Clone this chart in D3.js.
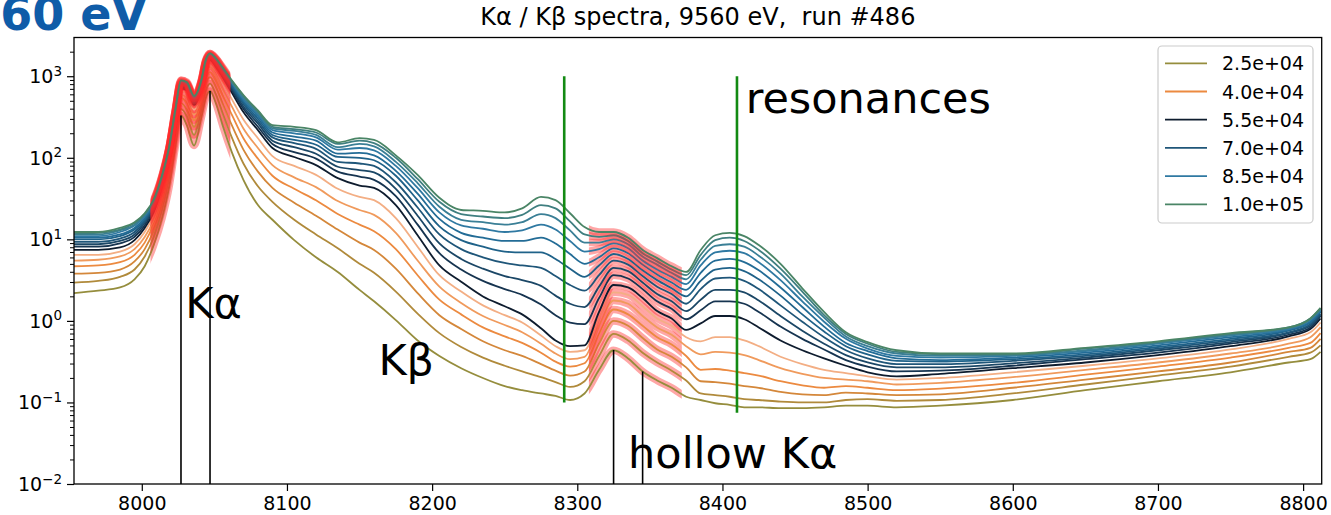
<!DOCTYPE html>
<html>
<head>
<meta charset="utf-8">
<script src="https://cdn.jsdelivr.net/npm/d3@7"></script>
<style>
  html, body { margin: 0; padding: 0; background: #fff; }
  svg { display: block; }
  text { font-family: "DejaVu Sans", sans-serif; }
</style>
</head>
<body>
<svg id="chart" width="1331" height="515"></svg>
<script>
// Emission energy grid (eV) shared by all spectra
const energy = [7953,7970,7985,7995,8002,8008,8014,8019,8023,8027,8031,8036,8041,8044,8047,8051,8056,8062,8070,8080,
  8090,8105,8120,8135,8150,8160,8175,8190,8205,8220,8235,8250,8262,8275,8285,8295,8305,8315,8325,8335,
  8345,8355,8365,8375,8385,8395,8405,8415,8425,8440,8455,8470,8485,8500,8520,8550,8600,8650,8700,8750,
  8790,8805,8812];

// Pulse intensity of each spectrum
const pulseIntensity = [2.5e4,3.0e4,3.5e4,4.0e4,4.5e4,5.0e4,5.5e4,6.0e4,6.5e4,7.0e4,7.5e4,8.0e4,8.5e4,9.0e4,9.5e4,1.0e5];

const lineColors = ["#958d3d","#b08a3b","#d4873a","#ec8a40","#f09a5c","#f3ae84","#0e1c2e","#163450",
  "#1b4766","#1f5679","#1f6289","#236c96","#2f79a2","#3a7f96","#3f7f80","#4a8566"];

// Spectra, log10 of counts, one row per pulse intensity
const log10Counts = [
  [.34,.37,.41,.51,.67,.92,1.26,1.66,2.12,2.52,2.40,2.15,2.49,2.73,2.82,2.67,2.38,2.07,1.73,1.42,1.24,.99,.78,.60,.38,.24,.01,-.24,-.43,-.58,-.70,-.80,-.85,-.89,-.92,-.97,-.89,-.60,-.36,-.46,-.62,-.73,-.82,-.93,-.97,-1.01,-1.03,-1.06,-1.06,-1.07,-1.07,-1.06,-1.04,-1.04,-1.06,-1.04,-.97,-.85,-.74,-.63,-.51,-.47,-.38],
  [.47,.49,.54,.63,.79,1.02,1.36,1.77,2.21,2.60,2.51,2.28,2.58,2.82,2.91,2.78,2.53,2.25,1.93,1.65,1.46,1.24,1.06,.89,.70,.59,.36,.09,-.15,-.32,-.45,-.55,-.62,-.69,-.75,-.81,-.74,-.43,-.16,-.24,-.39,-.51,-.61,-.73,-.89,-.91,-.93,-.96,-.97,-.99,-1.00,-1.00,-.97,-.96,-.98,-.97,-.89,-.78,-.67,-.56,-.44,-.39,-.30],
  [.58,.59,.63,.73,.88,1.10,1.44,1.85,2.28,2.67,2.59,2.38,2.65,2.90,2.99,2.87,2.65,2.40,2.10,1.83,1.63,1.45,1.29,1.12,.96,.87,.64,.34,.07,-.10,-.25,-.36,-.43,-.53,-.61,-.67,-.62,-.28,.00,-.06,-.21,-.35,-.44,-.57,-.74,-.75,-.77,-.80,-.82,-.87,-.90,-.91,-.88,-.89,-.91,-.90,-.82,-.72,-.62,-.51,-.38,-.33,-.22],
  [.67,.68,.72,.81,.96,1.18,1.51,1.92,2.35,2.73,2.67,2.46,2.71,2.96,3.05,2.95,2.75,2.53,2.24,1.99,1.78,1.62,1.48,1.31,1.18,1.10,.88,.56,.26,.08,-.08,-.19,-.27,-.39,-.50,-.56,-.52,-.16,.14,.08,-.06,-.20,-.29,-.43,-.60,-.59,-.61,-.64,-.67,-.74,-.79,-.82,-.80,-.82,-.85,-.83,-.76,-.66,-.56,-.45,-.33,-.27,-.15],
  [.74,.75,.79,.88,1.03,1.23,1.57,1.97,2.40,2.77,2.73,2.53,2.77,3.01,3.11,3.01,2.83,2.63,2.36,2.12,1.91,1.76,1.64,1.47,1.36,1.30,1.08,.74,.42,.22,.06,-.05,-.14,-.28,-.40,-.47,-.44,-.06,.25,.21,.06,-.08,-.17,-.31,-.41,-.38,-.39,-.42,-.48,-.58,-.65,-.70,-.72,-.74,-.78,-.76,-.69,-.60,-.51,-.40,-.28,-.20,-.08],
  [.81,.81,.85,.94,1.09,1.29,1.62,2.02,2.44,2.82,2.78,2.59,2.81,3.06,3.15,3.07,2.91,2.72,2.47,2.24,2.02,1.90,1.79,1.62,1.52,1.48,1.26,.91,.56,.36,.19,.07,-.02,-.18,-.31,-.38,-.36,.03,.35,.32,.18,.03,-.06,-.20,-.25,-.20,-.20,-.24,-.31,-.44,-.53,-.60,-.64,-.68,-.72,-.70,-.63,-.55,-.46,-.35,-.22,-.14,-.02],
  [.87,.87,.90,.99,1.14,1.33,1.66,2.07,2.49,2.85,2.83,2.65,2.85,3.10,3.20,3.12,2.98,2.80,2.56,2.34,2.12,2.01,1.91,1.75,1.66,1.63,1.42,1.05,.68,.48,.30,.18,.08,-.09,-.24,-.31,-.30,.11,.44,.41,.28,.12,.03,-.11,-.03,.06,.06,.02,-.08,-.24,-.36,-.46,-.55,-.63,-.68,-.65,-.58,-.51,-.42,-.31,-.19,-.10,.03],
  [.91,.91,.95,1.03,1.17,1.36,1.69,2.08,2.50,2.87,2.85,2.67,2.87,3.12,3.21,3.14,3.00,2.83,2.60,2.38,2.17,2.07,1.99,1.83,1.77,1.73,1.53,1.18,.83,.63,.49,.39,.32,.20,.07,-.02,-.04,.28,.56,.52,.39,.24,.15,.02,.13,.24,.24,.21,.11,-.07,-.22,-.35,-.48,-.56,-.62,-.61,-.55,-.47,-.39,-.28,-.17,-.08,.06],
  [.94,.94,.98,1.06,1.20,1.38,1.70,2.10,2.52,2.88,2.86,2.68,2.88,3.13,3.22,3.15,3.01,2.85,2.63,2.42,2.21,2.13,2.05,1.89,1.85,1.82,1.62,1.29,.95,.76,.64,.55,.50,.43,.31,.21,.17,.42,.65,.61,.47,.33,.24,.12,.26,.38,.38,.35,.25,.06,-.12,-.28,-.42,-.51,-.57,-.57,-.52,-.45,-.36,-.26,-.15,-.06,.07],
  [.97,.97,1.01,1.09,1.22,1.40,1.72,2.11,2.53,2.90,2.87,2.70,2.90,3.14,3.24,3.17,3.03,2.87,2.66,2.45,2.25,2.18,2.11,1.95,1.93,1.90,1.70,1.39,1.06,.88,.78,.71,.68,.65,.55,.44,.37,.56,.74,.69,.55,.42,.33,.21,.39,.52,.53,.49,.39,.19,-.01,-.20,-.36,-.46,-.53,-.53,-.49,-.43,-.34,-.24,-.14,-.04,.09],
  [1.00,1.00,1.04,1.12,1.24,1.42,1.74,2.12,2.54,2.91,2.89,2.71,2.91,3.16,3.25,3.18,3.05,2.89,2.68,2.48,2.28,2.22,2.16,2.01,2.00,1.97,1.78,1.48,1.16,.99,.91,.85,.84,.84,.76,.64,.54,.68,.82,.76,.62,.50,.40,.30,.49,.63,.65,.61,.51,.31,.08,-.13,-.31,-.41,-.49,-.50,-.47,-.41,-.32,-.22,-.12,-.02,.11],
  [1.02,1.02,1.06,1.14,1.26,1.43,1.75,2.13,2.55,2.92,2.90,2.72,2.92,3.17,3.26,3.19,3.06,2.91,2.70,2.51,2.31,2.26,2.21,2.05,2.06,2.03,1.84,1.56,1.25,1.08,1.02,.98,.98,1.02,.95,.82,.70,.78,.89,.83,.69,.57,.47,.38,.59,.74,.76,.72,.62,.41,.17,-.07,-.27,-.37,-.46,-.48,-.45,-.39,-.30,-.20,-.11,-.01,.12],
  [1.04,1.04,1.09,1.17,1.28,1.45,1.76,2.14,2.56,2.93,2.91,2.73,2.93,3.18,3.26,3.20,3.07,2.92,2.72,2.53,2.34,2.30,2.25,2.10,2.12,2.09,1.90,1.63,1.33,1.17,1.13,1.09,1.11,1.18,1.12,.98,.85,.88,.95,.89,.74,.63,.54,.45,.68,.84,.86,.83,.72,.50,.24,-.01,-.22,-.34,-.43,-.45,-.43,-.37,-.28,-.18,-.10,.01,.13],
  [1.06,1.06,1.11,1.18,1.30,1.46,1.77,2.14,2.57,2.94,2.91,2.74,2.94,3.18,3.27,3.21,3.08,2.93,2.74,2.55,2.36,2.33,2.28,2.13,2.17,2.14,1.95,1.69,1.40,1.24,1.21,1.18,1.21,1.31,1.26,1.11,.96,.96,1.00,.94,.79,.69,.59,.51,.75,.92,.94,.91,.80,.58,.30,.04,-.19,-.31,-.40,-.43,-.42,-.36,-.27,-.17,-.09,.02,.14],
  [1.07,1.08,1.12,1.20,1.31,1.47,1.78,2.15,2.58,2.95,2.92,2.75,2.95,3.19,3.28,3.22,3.09,2.94,2.76,2.57,2.38,2.35,2.31,2.17,2.21,2.18,2.00,1.74,1.46,1.31,1.28,1.26,1.30,1.42,1.38,1.22,1.06,1.03,1.05,.98,.83,.73,.63,.56,.81,.99,1.02,.98,.87,.64,.36,.07,-.16,-.28,-.38,-.41,-.41,-.34,-.26,-.16,-.08,.03,.15],
  [1.09,1.09,1.14,1.21,1.32,1.48,1.79,2.15,2.58,2.95,2.93,2.76,2.95,3.20,3.28,3.22,3.10,2.95,2.77,2.58,2.40,2.38,2.34,2.19,2.24,2.22,2.03,1.79,1.51,1.36,1.35,1.33,1.38,1.52,1.48,1.32,1.15,1.09,1.09,1.02,.87,.77,.67,.60,.87,1.05,1.08,1.04,.93,.70,.40,.11,-.14,-.26,-.36,-.40,-.40,-.33,-.25,-.15,-.08,.03,.16]
];

// Legend shows every third spectrum
const legendIndex = [0, 3, 6, 9, 12, 15];
const legendLabels = ["2.5e+04", "4.0e+04", "5.5e+04", "7.0e+04", "8.5e+04", "1.0e+05"];

const xTickValues = [8000, 8100, 8200, 8300, 8400, 8500, 8600, 8700, 8800];
const yDecades = [-2, -1, 0, 1, 2, 3];

// Energy windows of the fitted Kα and hollow Kα regions
const fitWindows = [[8006, 8061], [8308, 8372]];

// Resonance markers (energy, lower and upper count)
const resonanceMarks = [
  { energy: 8291, low: 0.1, high: 1000 },
  { energy: 8410, low: 0.075, high: 1000 }
];

// Peak markers dropped from the lowest spectrum to the axis
const peakMarks = [
  { energy: 8027, top: 330 },
  { energy: 8047, top: 660 },
  { energy: 8325, top: 0.44 },
  { energy: 8345, top: 0.24 }
];

const labels = [
  { text: "Kα", energy: 8030, value: 1.08 },
  { text: "Kβ", energy: 8163, value: 0.22 },
  { text: "resonances", energy: 8416, value: 350 },
  { text: "hollow Kα", energy: 8335, value: 0.0157 }
];

const plot = { left: 74, right: 1321.7, top: 37.5, bottom: 484 };

const x = d3.scaleLinear().domain([7953.3, 8812.8]).range([plot.left, plot.right]);
const y = d3.scaleLog().domain([0.01, 2985]).range([plot.bottom, plot.top]);

const svg = d3.select("#chart");
const defs = svg.append("defs");

defs.append("clipPath").attr("id", "plotClip")
  .append("rect")
  .attr("x", plot.left).attr("y", plot.top)
  .attr("width", plot.right - plot.left).attr("height", plot.bottom - plot.top);

fitWindows.forEach((w, i) => {
  defs.append("clipPath").attr("id", "fitClip" + i)
    .append("rect")
    .attr("x", x(w[0])).attr("y", plot.top - 10)
    .attr("width", x(w[1]) - x(w[0])).attr("height", plot.bottom - plot.top + 20);
});

const series = log10Counts.map((row, i) => ({
  intensity: pulseIntensity[i],
  color: lineColors[i],
  points: row.map((v, j) => [energy[j], Math.pow(10, v)])
}));

const line = d3.line()
  .x(d => x(d[0]))
  .y(d => y(d[1]))
  .curve(d3.curveMonotoneX);

const plotArea = svg.append("g").attr("clip-path", "url(#plotClip)");

// Each spectrum: fit overlay in both windows, then the measured curve on top
const spectrum = plotArea.selectAll("g.spectrum")
  .data(series)
  .join("g").attr("class", "spectrum");

fitWindows.forEach((w, i) => {
  spectrum.append("path")
    .attr("clip-path", "url(#fitClip" + i + ")")
    .attr("d", d => line(d.points))
    .attr("fill", "none")
    .attr("stroke", "#ff2a2a")
    .attr("stroke-opacity", 0.42)
    .attr("stroke-width", 7.5)
    .attr("stroke-linejoin", "round")
    .attr("stroke-linecap", "butt");
});

spectrum.append("path")
  .attr("d", d => line(d.points))
  .attr("fill", "none")
  .attr("stroke", d => d.color)
  .attr("stroke-width", 1.8)
  .attr("stroke-linejoin", "round");

// Resonance markers
plotArea.append("g").selectAll("line")
  .data(resonanceMarks)
  .join("line")
  .attr("x1", d => x(d.energy)).attr("x2", d => x(d.energy))
  .attr("y1", d => y(d.low)).attr("y2", d => y(d.high))
  .attr("stroke", "#138a13")
  .attr("stroke-width", 2.6);

// Peak markers
plotArea.append("g").selectAll("line")
  .data(peakMarks)
  .join("line")
  .attr("x1", d => x(d.energy)).attr("x2", d => x(d.energy))
  .attr("y1", d => y(d.top)).attr("y2", y(0.01))
  .attr("stroke", "#000")
  .attr("stroke-width", 1.6);

// Axes
const xAxis = svg.append("g")
  .attr("transform", `translate(0,${plot.bottom})`)
  .call(d3.axisBottom(x).tickValues(xTickValues).tickSize(7).tickPadding(6).tickFormat(d3.format("d")));
xAxis.select(".domain").remove();
xAxis.selectAll(".tick line").attr("stroke", "#000").attr("stroke-width", 1.2);
xAxis.selectAll(".tick text")
  .attr("font-family", "DejaVu Sans")
  .attr("font-size", 19)
  .attr("fill", "#000");

const minorValues = [];
yDecades.forEach(p => {
  for (let m = 2; m <= 9; m++) {
    const v = m * Math.pow(10, p);
    if (v <= y.domain()[1]) minorValues.push(v);
  }
});

const yMinor = svg.append("g")
  .attr("transform", `translate(${plot.left},0)`)
  .call(d3.axisLeft(y).tickValues(minorValues).tickSize(4).tickFormat(""));
yMinor.select(".domain").remove();
yMinor.selectAll(".tick line").attr("stroke", "#000").attr("stroke-width", 1);

const yMajor = svg.append("g")
  .attr("transform", `translate(${plot.left},0)`)
  .call(d3.axisLeft(y).tickValues(yDecades.map(p => Math.pow(10, p))).tickSize(7).tickFormat(""));
yMajor.select(".domain").remove();
yMajor.selectAll(".tick line").attr("stroke", "#000").attr("stroke-width", 1.2);
yMajor.selectAll(".tick").each(function (d) {
  const p = Math.round(Math.log10(d));
  const t = d3.select(this).append("text")
    .attr("x", -12)
    .attr("y", 6.5)
    .attr("text-anchor", "end")
    .attr("font-family", "DejaVu Sans")
    .attr("font-size", 19)
    .attr("fill", "#000");
  t.append("tspan").text("10");
  t.append("tspan").attr("dy", -7.5).attr("font-size", 13.5)
    .text(p < 0 ? "\u2212" + Math.abs(p) : String(p));
});

// Frame
svg.append("rect")
  .attr("x", plot.left).attr("y", plot.top)
  .attr("width", plot.right - plot.left).attr("height", plot.bottom - plot.top)
  .attr("fill", "none").attr("stroke", "#000").attr("stroke-width", 1.3);

// Title
svg.append("text")
  .attr("x", (plot.left + plot.right) / 2)
  .attr("y", 25)
  .attr("text-anchor", "middle")
  .attr("font-family", "DejaVu Sans")
  .attr("font-size", 24)
  .attr("fill", "#000")
  .style("white-space", "pre")
  .text("Kα / Kβ spectra, 9560 eV,  run #486");

// Slide heading fragment at top left
svg.append("text")
  .attr("x", 147).attr("y", 30)
  .attr("text-anchor", "end")
  .attr("font-family", "DejaVu Sans")
  .attr("font-weight", "bold")
  .attr("font-size", 46)
  .attr("fill", "#0f5ca8")
  .text("9560 eV");

// Peak labels
svg.append("g").selectAll("text")
  .data(labels)
  .join("text")
  .attr("x", d => x(d.energy))
  .attr("y", d => y(d.value))
  .attr("font-family", "DejaVu Sans")
  .attr("font-size", 43)
  .attr("fill", "#000")
  .text(d => d.text);

// Legend
const legend = svg.append("g");
legend.append("rect")
  .attr("x", 1158).attr("y", 46).attr("width", 155).attr("height", 177)
  .attr("rx", 4).attr("fill", "#fff").attr("fill-opacity", 0.8)
  .attr("stroke", "#cccccc").attr("stroke-width", 1.2);
const rows = legend.selectAll("g.row")
  .data(legendIndex.map((idx, k) => ({ color: lineColors[idx], label: legendLabels[k], k })))
  .join("g").attr("class", "row")
  .attr("transform", d => `translate(0,${63.3 + d.k * 28.2})`);
rows.append("line")
  .attr("x1", 1165).attr("x2", 1207)
  .attr("stroke", d => d.color).attr("stroke-width", 1.8);
rows.append("text")
  .attr("x", 1222).attr("y", 7)
  .attr("font-family", "DejaVu Sans")
  .attr("font-size", 19)
  .attr("fill", "#000")
  .text(d => d.label);
</script>
</body>
</html>
